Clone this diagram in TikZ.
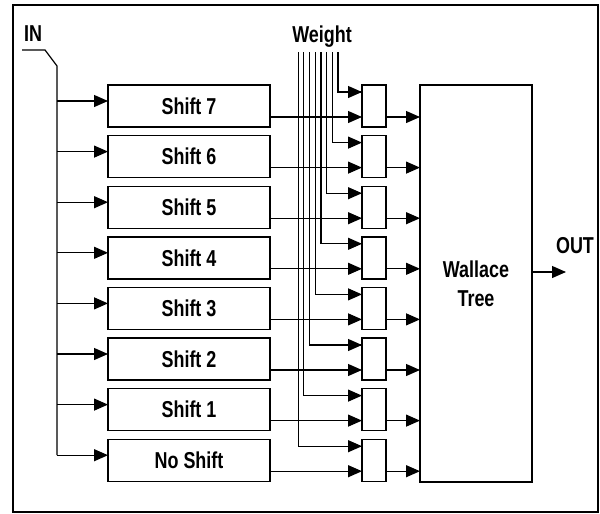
\documentclass[tikz,border=0pt]{standalone}
\usepackage{fontspec}
\setmainfont{Liberation Sans}[FakeStretch=0.78]
\usetikzlibrary{arrows.meta,calc}
\begin{document}
\begin{tikzpicture}[x=1pt,y=-1pt,
  lbl/.style={font=\fontsize{23}{29}\selectfont\bfseries, inner sep=0pt},
  box/.style={draw, line width=1.4pt, inner sep=0pt, outer sep=0pt, anchor=north west},
  wire/.style={line width=1.2pt},
  arr/.style={wire, -{Triangle[length=14pt,width=12pt]}}]
\useasboundingbox (0,0) rectangle (600,514);
\draw[line width=2pt] (13,5) rectangle (598,512);
% labels
\node[lbl] (inlbl) at (33,34) {IN};
\node[lbl] (wlbl) at (322,37) {Weight};
\node[lbl] (outlbl) at (575,246) {OUT};
% Wallace tree
\node[box, lbl, align=center, minimum width=112pt, minimum height=397pt] (wt) at (420,85) {Wallace\\Tree};
% IN bus
\coordinate (inA) at (22,50);
\coordinate (inB) at (45,50);
\coordinate (inC) at (57,66);
\coordinate (inD) at (57,455);
\draw[wire] (inA) -- (inB) -- (inC) -- (inD);
\foreach \k/\t in {0/Shift 7,1/Shift 6,2/Shift 5,3/Shift 4,4/Shift 3,5/Shift 2,6/Shift 1,7/No Shift}{
  \pgfmathsetmacro\ty{85+\k*50.6}
  \node[box, lbl, minimum width=162pt, minimum height=42pt] (s\k) at (108,\ty) {\t};
  \node[box, minimum width=24pt, minimum height=42pt] (m\k) at (362,\ty) {};
  \coordinate (i\k) at (57,\ty+16);
  \coordinate (o\k) at (270,\ty+32);
  \coordinate (mw\k) at (362,\ty+7);
  \coordinate (w\k) at ({338-\k*5.7},52);
  \draw[arr] (i\k) -- (i\k -| s\k.west);
  \draw[wire] (w\k) |- (mw\k);
  \draw[arr] (w\k |- mw\k) -- (mw\k);
  \draw[arr] (o\k) -- (o\k -| m\k.west);
  \draw[arr] (o\k -| m\k.east) -- (o\k -| wt.west);
}
\coordinate (outE) at (566,272);
\draw[arr] (outE -| wt.east) -- (outE);
\end{tikzpicture}
\end{document}
